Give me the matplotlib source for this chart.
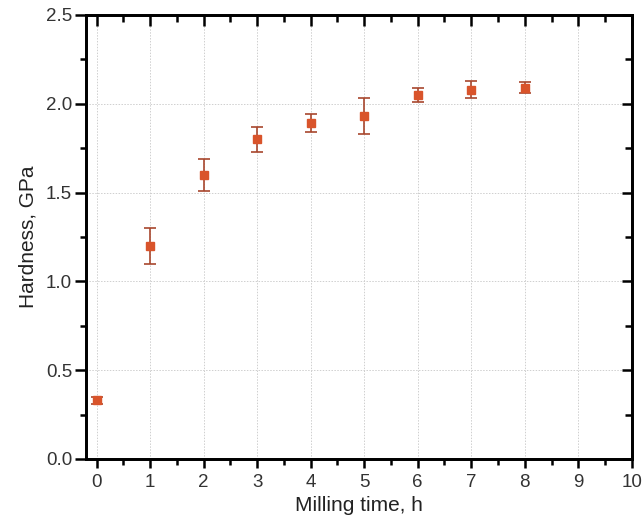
import matplotlib
matplotlib.use('Agg')
import matplotlib.pyplot as plt
from matplotlib.ticker import MultipleLocator

plt.rcParams['font.family'] = ['Liberation Sans', 'DejaVu Sans']

# milling time (h) vs hardness (GPa)
time_h = [0, 1, 2, 3, 4, 5, 6, 7, 8]
hardness = [0.33, 1.20, 1.60, 1.80, 1.89, 1.93, 2.05, 2.08, 2.09]
hardness_err = [0.02, 0.10, 0.09, 0.07, 0.05, 0.10, 0.04, 0.05, 0.03]

xlim = (-0.2, 10)
ylim = (0, 2.5)

fig = plt.figure(figsize=(6.44, 5.26), dpi=100)
ax = fig.add_axes([0.1335, 0.1274, 0.8475, 0.8441])

ax.errorbar(time_h, hardness, yerr=hardness_err, fmt='s', color='#d9542b',
            ecolor='#a8472e', elinewidth=1.2, capsize=4.5, capthick=1.2,
            markersize=6, zorder=3)

ax.set_xlim(*xlim)
ax.set_ylim(*ylim)
ax.xaxis.set_major_locator(MultipleLocator(1))
ax.xaxis.set_minor_locator(MultipleLocator(0.5))
ax.yaxis.set_major_locator(MultipleLocator(0.5))
ax.yaxis.set_minor_locator(MultipleLocator(0.25))
ax.yaxis.set_major_formatter(plt.FormatStrFormatter('%.1f'))

ax.grid(True, which='major', color='#cfcfcf', linestyle=(0, (1.5, 1.5)), linewidth=0.7)
ax.set_axisbelow(True)

for s in ax.spines.values():
    s.set_linewidth(1.8)

# bottom / left: ticks outward, with labels
ax.tick_params(which='both', direction='out', width=1.8, labelsize=13.5,
               labelcolor='#333333', top=False, right=False)
ax.tick_params(axis='x', which='major', length=6.5, pad=4)
ax.tick_params(axis='x', which='minor', length=4.5)
ax.tick_params(axis='y', which='major', length=8, pad=2)
ax.tick_params(axis='y', which='minor', length=4.5)

# top: ticks inward, no labels
top = ax.twiny()
top.set_xlim(*xlim)
top.xaxis.set_major_locator(MultipleLocator(1))
top.xaxis.set_minor_locator(MultipleLocator(0.5))
top.tick_params(axis='x', which='both', direction='in', width=1.8,
                labeltop=False, top=True, bottom=False)
top.tick_params(axis='x', which='major', length=8)
top.tick_params(axis='x', which='minor', length=5)

# right: ticks inward, no labels
right = ax.twinx()
right.set_ylim(*ylim)
right.yaxis.set_major_locator(MultipleLocator(0.5))
right.yaxis.set_minor_locator(MultipleLocator(0.25))
right.tick_params(axis='y', which='both', direction='in', width=1.8,
                  labelright=False, right=True, left=False)
right.tick_params(axis='y', which='major', length=7)
right.tick_params(axis='y', which='minor', length=5)

for a in (top, right):
    for s in a.spines.values():
        s.set_linewidth(1.8)

ax.set_xlabel('Milling time, h', fontsize=15, color='#222222', labelpad=4)
ax.set_ylabel('Hardness, GPa', fontsize=15, color='#222222', labelpad=6)

fig.savefig('out.png', dpi=100)
